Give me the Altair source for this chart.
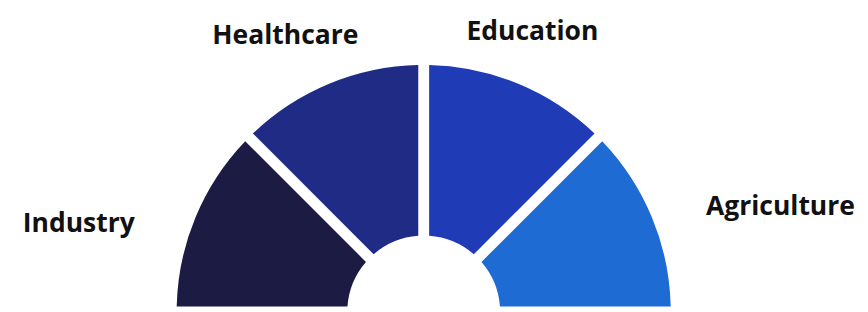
import math
import altair as alt
import pandas as pd

sectors = ["Industry", "Healthcare", "Education", "Agriculture"]
shares = [1, 1, 1, 1]
colors = ["#1c1b44", "#202b86", "#1f3bb6", "#1e6cd3"]

df = pd.DataFrame({"sector": sectors, "share": shares, "order": list(range(len(sectors)))})

cx, cy = 419, 302
tscale = alt.Scale(domain=[0, sum(shares)], range=[-math.pi / 2, math.pi / 2])
cscale = alt.Scale(domain=sectors, range=colors)

base = (
    alt.Chart(df)
    .transform_window(v1="sum(share)", sort=[alt.SortField("order")], frame=[None, 0])
    .transform_calculate(v0="datum.v1 - datum.share", mid="datum.v1 - datum.share / 2")
)

arcs = base.mark_arc(innerRadius=78, outerRadius=252, padAngle=0.042).encode(
    theta=alt.Theta("v0:Q", scale=tscale),
    theta2="v1:Q",
    color=alt.Color("sector:N", scale=cscale, legend=None),
    x=alt.value(cx),
    y=alt.value(cy),
)

label_style = {
    "Industry": (361, -0.166),
    "Healthcare": (308, -0.083),
    "Education": (299, -0.013),
    "Agriculture": (377, 0.128),
}

layers = [arcs]
for name in sectors:
    r, off = label_style[name]
    layers.append(
        base.transform_filter(alt.datum.sector == name)
        .mark_text(
            radius=r,
            thetaOffset=off,
            font="Open Sans",
            fontSize=27,
            fontWeight="bold",
            color="#111111",
            align="center",
            baseline="alphabetic",
        )
        .encode(
            theta=alt.Theta("mid:Q", scale=tscale),
            text="sector:N",
            x=alt.value(cx),
            y=alt.value(cy),
        )
    )

chart = (
    alt.layer(*layers)
    .properties(width=852, height=296, background="white")
    .configure_view(stroke=None)
)

chart.save("out.html", embed_options={"renderer": "svg", "actions": False})
